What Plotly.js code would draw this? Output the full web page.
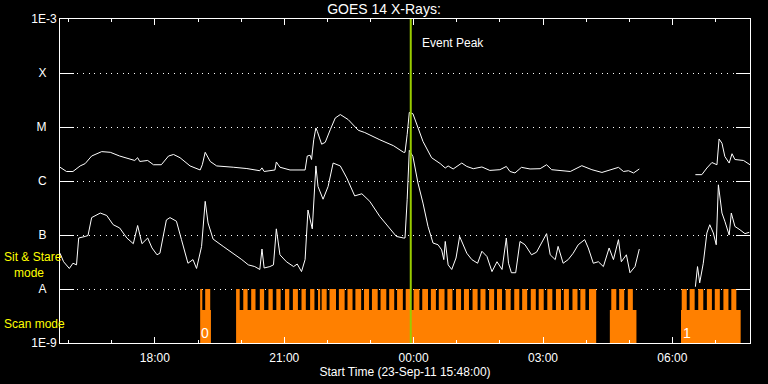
<!DOCTYPE html>
<html>
<head>
<meta charset="utf-8">
<script src="https://cdn.plot.ly/plotly-3.0.1.min.js"></script>
<style>html,body{margin:0;padding:0;background:#000;}#chart{width:768px;height:384px;}</style>
</head>
<body>
<div id="chart"></div>
<script>
// ---- Data ----
// Long channel (1-8 A), W/m^2
const longTimes = [
 "15:48","15:57","16:06","16:16","16:23","16:32","16:46","16:58","17:11","17:32",
 "17:36","17:39","17:50","17:58","18:09","18:19","18:26","18:35","18:49","19:03",
 "19:06","19:10","19:17","19:26","19:49","20:08","20:26","20:29","20:32","20:47",
 "20:49","20:54","21:08","21:29","21:32","21:36","21:38","21:41","21:44","21:46",
 "21:52","21:57","22:04","22:11","22:18","22:29","22:43","22:52","23:13","23:32",
 "23:46","23:48","23:51","23:54","23:59","00:04","00:13","00:25","00:37","00:44",
 "00:48","00:55","01:07","01:14","01:23","01:35","01:46","02:00","02:09","02:14",
 "02:21","02:30","02:42","02:56","03:05","03:12","03:24","03:38","03:54","04:08",
 "04:22","04:33","04:45","04:52","04:59","05:06","05:14","05:50","06:32","06:41",
 "06:48","06:55","07:02","07:05","07:09","07:13","07:19","07:23","07:27","07:39",
 "07:48"];
const longFlux = [
 1.8e-6,1.5e-6,1.5e-6,1.9e-6,2.1e-6,2.9e-6,3.5e-6,3.4e-6,2.9e-6,2.4e-6,
 2.7e-6,2.3e-6,2.4e-6,2.0e-6,2.0e-6,2.9e-6,3.1e-6,2.7e-6,1.9e-6,1.6e-6,
 2.0e-6,3.4e-6,2.3e-6,1.9e-6,1.8e-6,1.7e-6,1.55e-6,1.75e-6,1.5e-6,1.6e-6,
 2.25e-6,1.8e-6,1.6e-6,1.6e-6,2.9e-6,3.0e-6,2.5e-6,5.8e-6,9.6e-6,8.3e-6,
 4.8e-6,5.2e-6,8.9e-6,1.47e-5,1.7e-5,1.37e-5,8.7e-6,7.9e-6,5.8e-6,4.5e-6,
 3.4e-6,3.4e-6,7.2e-6,1.86e-5,1.76e-5,1.19e-5,5.4e-6,2.7e-6,2.1e-6,1.74e-6,
 1.9e-6,1.67e-6,2.15e-6,1.86e-6,1.69e-6,1.82e-6,1.57e-6,1.62e-6,1.86e-6,1.5e-6,
 1.41e-6,1.79e-6,1.67e-6,1.69e-6,2.0e-6,1.62e-6,1.55e-6,1.5e-6,1.92e-6,1.62e-6,
 1.44e-6,1.62e-6,1.79e-6,1.5e-6,1.55e-6,1.41e-6,1.67e-6,null,1.31e-6,1.31e-6,
 1.74e-6,2.2e-6,2.0e-6,6.0e-6,5.0e-6,2.85e-6,2.15e-6,3.2e-6,2.5e-6,2.4e-6,
 2.0e-6];

// Short channel (0.5-4 A), W/m^2
const shortTimes = [
 "15:48","15:53","16:01","16:06","16:11","16:14","16:23","16:27","16:32","16:44",
 "16:53","17:02","17:11","17:21","17:30","17:36","17:42","17:50","17:56","18:03",
 "18:07","18:16","18:21","18:30","18:37","18:46","18:53","18:58","19:05","19:10",
 "19:14","19:21","19:35","19:49","20:01","20:10","20:19","20:26","20:29","20:32",
 "20:40","20:45","20:49","20:54","21:03","21:13","21:18","21:24","21:29","21:33",
 "21:39","21:44","21:47","21:54","22:01","22:08","22:18","22:27","22:38","22:48",
 "22:59","23:13","23:25","23:36","23:46","23:48","23:51","23:54","23:59","00:06",
 "00:13","00:20","00:27","00:34","00:39","00:42","00:44","00:48","00:53","00:59",
 "01:04","01:14","01:21","01:29","01:35","01:42","01:49","01:56","02:03","02:09",
 "02:12","02:16","02:22","02:28","02:35","02:44","02:51","02:59","03:05","03:10",
 "03:17","03:21","03:28","03:35","03:42","03:49","03:58","04:03","04:10","04:17",
 "04:24","04:32","04:38","04:45","04:49","04:56","05:01","05:08","05:14","05:50",
 "06:32","06:35","06:38","06:43","06:48","06:52","06:57","07:01","07:04","07:09",
 "07:13","07:19","07:22","07:27","07:34","07:41","07:47"];
const shortFlux = [
 4.6e-8,3.2e-8,2.4e-8,3.0e-8,2.8e-8,8.8e-8,9.4e-8,9.8e-8,2.1e-7,2.55e-7,
 2.3e-7,1.55e-7,1.35e-7,8.8e-8,6.9e-8,1.5e-7,6.9e-8,8.8e-8,5.75e-8,4.3e-8,
 4.6e-8,1.9e-7,2.1e-7,1.8e-7,8.2e-8,3.0e-8,3.5e-8,2.4e-8,6.15e-8,4.2e-7,
 1.67e-7,8.4e-8,6.15e-8,4.6e-8,3.5e-8,2.8e-8,2.6e-8,2.3e-8,5.5e-8,2.45e-8,
 2.6e-8,2.8e-8,1.3e-7,4.3e-8,3.2e-8,2.6e-8,2.9e-8,2.1e-8,3.5e-8,2.9e-7,
 1.3e-7,1.9e-6,7.9e-7,4.6e-7,7.9e-7,2.15e-6,1.9e-6,1.14e-6,5.3e-7,5.8e-7,
 4.2e-7,2.2e-7,1.44e-7,9.4e-8,8.8e-8,8.8e-8,4.5e-7,3.7e-6,2.85e-6,9.2e-7,
 3.9e-7,1.44e-7,7.1e-8,6.6e-8,5.3e-8,3.5e-8,7.6e-8,2.8e-8,2.3e-8,3.75e-8,
 9.4e-8,4.6e-8,3.5e-8,3.0e-8,5.0e-8,4.0e-8,2.1e-8,3.2e-8,2.3e-8,8.8e-8,
 3.0e-8,2.0e-8,2.0e-8,7.6e-8,6.6e-8,4.3e-8,4.8e-8,7.6e-8,1.06e-7,4.3e-8,
 3.5e-8,6.15e-8,3.0e-8,3.5e-8,4.6e-8,6.6e-8,8.2e-8,5.75e-8,3.0e-8,3.2e-8,
 2.6e-8,5.75e-8,3.5e-8,8.2e-8,3.2e-8,4.3e-8,2.0e-8,2.6e-8,5.5e-8,null,
 1.1e-8,2.6e-8,1.3e-8,3.0e-8,1.09e-7,1.55e-7,1.09e-7,6.6e-8,8.5e-7,2.55e-7,
 1.8e-7,1.0e-7,2.55e-7,1.44e-7,1.25e-7,1.06e-7,1.12e-7];

// Observing mode bar (scan blocks + sit & stare dwells)
const scanStart = ["19:03","19:53","04:33","06:12"];
const scanEnd   = ["19:18","04:14","05:10","07:35"];
const stareStart = [
 "19:03","19:10",
 "19:53","20:03","20:14","20:26","20:38","20:49","21:01","21:12","21:24","21:36",
 "21:47","21:52","22:03","22:16","22:28","22:39","22:51","23:02","23:14","23:26",
 "23:37","23:49","00:00","00:12","00:24","00:35","00:47","00:59","01:10","01:22",
 "01:33","01:45","01:56","02:08","02:20","02:31","02:43","02:54","03:06","03:18",
 "03:29","03:41","03:52","04:04",
 "04:35","04:46","04:58",
 "06:13","06:24","06:36","06:48","06:59","07:11","07:22"];
const stareEnd = [
 "19:06","19:17",
 "19:58","20:09","20:20","20:32","20:44","20:55","21:07","21:19","21:30","21:42",
 "21:50","21:59","22:12","22:24","22:35","22:47","22:58","23:10","23:22","23:33",
 "23:45","23:56","00:08","00:20","00:31","00:43","00:54","01:06","01:17","01:29",
 "01:40","01:52","02:03","02:15","02:27","02:38","02:50","03:01","03:13","03:25",
 "03:36","03:48","03:59","04:14",
 "04:42","04:53","05:05",
 "06:20","06:31","06:43","06:55","07:06","07:18","07:29"];
const scanLevel = 4.1e-9, stareLevel = 1e-8, modeFloor = 1e-9;
const orbitLabels = ["0","1"];
const orbitTimes  = ["19:10","06:20"];
const orbitLevel  = 1.55e-9;

const eventPeak = "23:56";
const startTime = "15:48", endTime = "07:48";
const yTickVals = [1e-9,1e-8,1e-7,1e-6,1e-5,1e-4,1e-3];
const yTickText = ["1E-9","A","B","C","M","X","1E-3"];

// ---- helpers ----
function toDate(hm){
  if(hm===null) return null;
  const h = parseInt(hm.slice(0,2),10);
  return (h>=15 ? "2011-09-23 " : "2011-09-24 ") + hm;
}
const pad = "\u00a0\u00a0\u00a0";
const yText = yTickText.map(t => t.length===1 ? t+pad : t);

// build mode rectangles
const mx=[], my=[];
function rect(s,e,lo,hi){
  mx.push(toDate(s),toDate(s),toDate(e),toDate(e),toDate(s),null);
  my.push(lo,hi,hi,lo,lo,null);
}
scanStart.forEach((s,i)=>rect(s,scanEnd[i],modeFloor,scanLevel));
stareStart.forEach((s,i)=>rect(s,stareEnd[i],modeFloor,stareLevel));

const traces = [
 {x:mx,y:my,type:'scatter',mode:'lines',fill:'toself',fillcolor:'#ff8000',
  line:{width:0,color:'#ff8000'},hoverinfo:'skip'},
 {x:longTimes.map(toDate),y:longFlux,type:'scatter',mode:'lines',
  line:{color:'white',width:1},connectgaps:false},
 {x:shortTimes.map(toDate),y:shortFlux,type:'scatter',mode:'lines',
  line:{color:'white',width:1},connectgaps:false}
];

const annotations = [
 {x:toDate(eventPeak),xref:'x',xanchor:'left',xshift:9,y:0.927,yref:'paper',yanchor:'middle',
  text:'Event Peak',showarrow:false,font:{color:'white',size:12}},
 {x:-0.0845,xref:'paper',xanchor:'left',y:0.241,yref:'paper',yanchor:'middle',align:'left',
  text:'Sit & Stare<br>\u00a0\u00a0\u00a0mode',showarrow:false,font:{color:'#ffff00',size:12}},
 {x:-0.0845,xref:'paper',xanchor:'left',y:0.059,yref:'paper',yanchor:'middle',
  text:'Scan mode',showarrow:false,font:{color:'#ffff00',size:12}}
];
orbitLabels.forEach((t,i)=>annotations.push({
  x:toDate(orbitTimes[i]),xref:'x',y:Math.log10(orbitLevel),yref:'y',
  text:t,showarrow:false,font:{color:'white',size:14},xanchor:'center',yanchor:'middle'}));

const layout = {
 width:768,height:384,
 margin:{l:60,r:18,t:19,b:41},
 paper_bgcolor:'black',plot_bgcolor:'black',
 font:{family:'"Liberation Sans", Arial, sans-serif',size:12,color:'white'},
 showlegend:false,
 title:{text:'GOES 14 X-Rays:',x:0.5,xref:'container',xanchor:'center',
        y:1-9/384,yref:'container',yanchor:'middle',font:{size:14,color:'white'}},
 xaxis:{type:'date',range:[toDate(startTime),toDate(endTime)],
  showline:true,linecolor:'white',linewidth:1,mirror:'ticks',
  ticks:'inside',ticklen:6,tickcolor:'white',tickwidth:1,
  tickmode:'linear',tick0:'2011-09-23 18:00',dtick:3*3600000,tickformat:'%H:%M',
  minor:{ticks:'inside',ticklen:3,tickcolor:'white',tickmode:'linear',
         tick0:'2011-09-23 16:00',dtick:3600000,showgrid:false},
  showgrid:false,zeroline:false,ticklabelstandoff:4,
  title:{text:'Start Time (23-Sep-11 15:48:00)',standoff:2,font:{size:12,color:'white'}},
  tickfont:{size:12,color:'white'}},
 yaxis:{type:'log',range:[-9,-3],tickmode:'array',tickvals:yTickVals,ticktext:yText,
  ticks:'inside',ticklen:14,tickcolor:'white',tickwidth:1,
  showline:true,linecolor:'white',linewidth:1,mirror:'ticks',
  showgrid:true,gridcolor:'white',gridwidth:1,griddash:'1px,4.7px',zeroline:false,
  tickfont:{size:12,color:'white'}},
 shapes:[{type:'line',xref:'x',yref:'paper',x0:toDate(eventPeak),x1:toDate(eventPeak),
   y0:0,y1:1,line:{color:'#99cc00',width:2},layer:'above'}],
 annotations:annotations
};

Plotly.newPlot('chart',traces,layout,{displayModeBar:false,staticPlot:true});
</script>
</body>
</html>
